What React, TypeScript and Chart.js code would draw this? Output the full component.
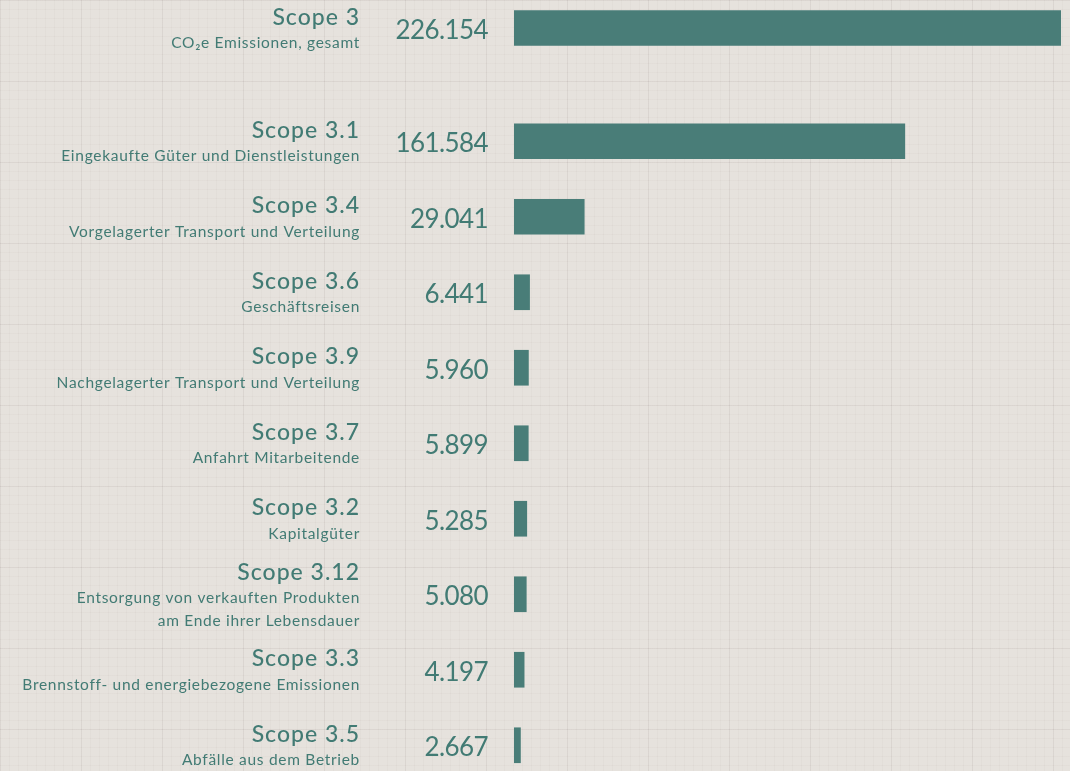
import React, { useEffect, useRef } from "react";
import { Chart, registerables } from "chart.js";

Chart.register(...registerables);

const scopeTitles = [
  "Scope 3",
  "Scope 3.1",
  "Scope 3.4",
  "Scope 3.6",
  "Scope 3.9",
  "Scope 3.7",
  "Scope 3.2",
  "Scope 3.12",
  "Scope 3.3",
  "Scope 3.5",
];

const scopeDescriptions: string[][] = [
  ["CO₂e Emissionen, gesamt"],
  ["Eingekaufte Güter und Dienstleistungen"],
  ["Vorgelagerter Transport und Verteilung"],
  ["Geschäftsreisen"],
  ["Nachgelagerter Transport und Verteilung"],
  ["Anfahrt Mitarbeitende"],
  ["Kapitalgüter"],
  ["Entsorgung von verkauften Produkten", "am Ende ihrer Lebensdauer"],
  ["Brennstoff- und energiebezogene Emissionen"],
  ["Abfälle aus dem Betrieb"],
];

const emissions = [226154, 161584, 29041, 6441, 5960, 5899, 5285, 5080, 4197, 2667];

const BAR_COLOR = "#497d78";
const TEXT_COLOR = "#427b74";
const FONT = "Lato, 'Noto Sans', sans-serif";

function formatDE(v: number): string {
  return String(Math.round(v)).replace(/\B(?=(\d{3})+(?!\d))/g, ".");
}

// row index: total first, then half-row gap before the breakdown
function rowOf(i: number): number {
  return i === 0 ? 0 : i + 0.5;
}

const labelPlugin = {
  id: "scopeLabels",
  afterDatasetsDraw(chart: any) {
    const ctx = chart.ctx as CanvasRenderingContext2D & { letterSpacing?: string };
    const meta = chart.getDatasetMeta(0);
    ctx.save();
    ctx.fillStyle = TEXT_COLOR;
    meta.data.forEach((el: any, i: number) => {
      const c = el.y;
      const desc = scopeDescriptions[i];
      const shift = (desc.length - 1) * 11;
      ctx.textAlign = "right";
      ctx.textBaseline = "alphabetic";
      ctx.font = `500 23px ${FONT}`;
      ctx.letterSpacing = "1px";
      ctx.fillText(scopeTitles[i], 360, c - 3.5 - shift);
      ctx.font = `400 15.5px ${FONT}`;
      ctx.letterSpacing = "0.7px";
      desc.forEach((line, j) => {
        ctx.fillText(line, 360, c + 20 - shift + j * 22.5);
      });
      ctx.font = `400 26px ${FONT}`;
      ctx.letterSpacing = "-0.6px";
      ctx.fillText(formatDE(emissions[i]), 488, c + 11);
    });
    ctx.letterSpacing = "0px";
    ctx.restore();
  },
};

export default function App() {
  const canvasRef = useRef<HTMLCanvasElement>(null);

  useEffect(() => {
    document.body.style.margin = "0";
    const canvas = canvasRef.current;
    if (!canvas) return;
    const chart = new Chart(canvas, {
      type: "bar",
      data: {
        datasets: [
          {
            data: emissions.map((v, i) => ({ x: v, y: rowOf(i) })),
            backgroundColor: BAR_COLOR,
            borderWidth: 0,
            barThickness: 35,
          },
        ],
      },
      options: {
        indexAxis: "y",
        animation: false,
        responsive: false,
        maintainAspectRatio: false,
        layout: { padding: { left: 514, right: 9, top: 0, bottom: 0 } },
        scales: {
          x: {
            type: "linear",
            min: 0,
            max: 226154,
            display: false,
          },
          y: {
            type: "linear",
            reverse: true,
            offset: false,
            min: -28 / 75.5,
            max: (771 - 28) / 75.5,
            display: false,
          },
        },
        plugins: {
          legend: { display: false },
          tooltip: { enabled: false },
        },
      },
      plugins: [labelPlugin],
    });
    return () => chart.destroy();
  }, []);

  const bg: React.CSSProperties = {
    position: "fixed",
    left: 0,
    top: 0,
    width: 1070,
    height: 771,
    overflow: "hidden",
    backgroundColor: "#e6e2dd",
    backgroundImage: [
      "linear-gradient(rgba(120,110,100,0.07) 1px, transparent 1px)",
      "linear-gradient(90deg, rgba(120,110,100,0.07) 1px, transparent 1px)",
      "linear-gradient(rgba(120,110,100,0.035) 1px, transparent 1px)",
      "linear-gradient(90deg, rgba(120,110,100,0.035) 1px, transparent 1px)",
    ].join(","),
    backgroundSize: "81px 81px, 81px 81px, 9px 9px, 9px 9px",
  };

  return (
    <div style={bg}>
      <canvas ref={canvasRef} width={1070} height={771} style={{ display: "block" }} />
    </div>
  );
}
